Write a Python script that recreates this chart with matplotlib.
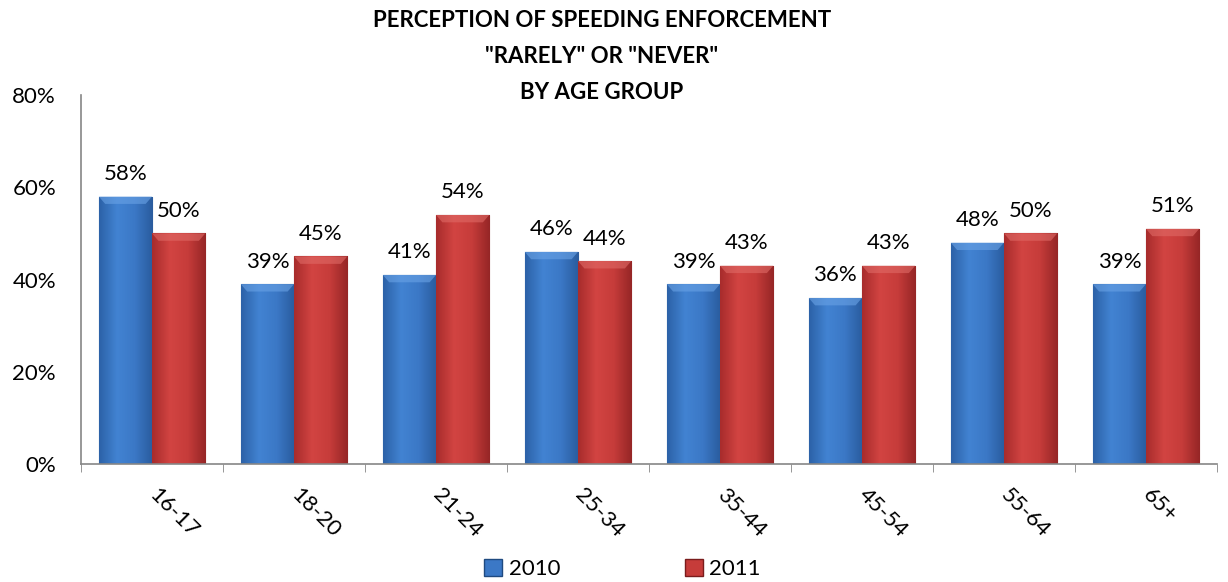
import matplotlib.pyplot as plt
import numpy as np
from matplotlib.patches import Patch
from matplotlib.colors import LinearSegmentedColormap

plt.rcParams['font.family'] = ['Lato', 'DejaVu Sans']

groups = ['16-17', '18-20', '21-24', '25-34', '35-44', '45-54', '55-64', '65+']
y2010 = [58, 39, 41, 46, 39, 36, 48, 39]
y2011 = [50, 45, 54, 44, 43, 43, 50, 51]
yticks = [0, 20, 40, 60, 80]

blue = '#3b78c6'
red = '#c63c3a'
blue_cm = LinearSegmentedColormap.from_list('b', ['#2c62a8', '#4283d2', '#3b78c6', '#2a5c9e'])
red_cm = LinearSegmentedColormap.from_list('r', ['#a82c2c', '#d24442', '#c63c3a', '#962626'])
fs = 16

fig = plt.figure(figsize=(12.28, 5.82), dpi=100)
ax = fig.add_axes([0.066, 0.2027, 0.925, 0.634])

x = np.arange(len(groups))
w = 0.375
b1 = ax.bar(x - w / 2, y2010, w, color=blue, edgecolor='#1f4a80', lw=0.8, zorder=2)
b2 = ax.bar(x + w / 2, y2011, w, color=red, edgecolor='#7a1c1c', lw=0.8, zorder=2)

# horizontal shading on each bar, lighter bevel at the top
grad = np.linspace(0, 1, 64).reshape(1, -1)
for bars, cm, top in ((b1, blue_cm, '#6aa3e6'), (b2, red_cm, '#e06a66')):
    for r in bars:
        x0, h, bw = r.get_x(), r.get_height(), r.get_width()
        im = ax.imshow(grad, cmap=cm, aspect='auto', zorder=2.5,
                       extent=(x0, x0 + bw, 0, h))
        im.set_clip_path(r)
        ax.fill([x0, x0 + bw, x0 + bw * 0.88, x0 + bw * 0.12],
                [h, h, h - 1.6, h - 1.6], color=top, alpha=0.6, lw=0, zorder=2.6)
    ax.bar_label(bars, labels=[f'{v}%' for v in bars.datavalues],
                 padding=9, fontsize=fs, zorder=4)

ax.set_xlim(-0.5, len(groups) - 0.5)
ax.set_ylim(0, 80)
ax.set_yticks(yticks)
ax.set_yticklabels([f'{v}%' for v in yticks], fontsize=fs)
ax.set_xticks(x)
ax.set_xticklabels(groups, fontsize=fs, rotation=-45, ha='left', va='center',
                   rotation_mode='anchor')
ax.tick_params(axis='x', length=0, pad=20)
ax.set_xticks(np.arange(len(groups) + 1) - 0.5, minor=True)
ax.tick_params(axis='x', which='minor', length=6, color='#868686')
ax.tick_params(axis='y', length=0, pad=18)

for s in ['top', 'right']:
    ax.spines[s].set_visible(False)
for s in ['left', 'bottom']:
    ax.spines[s].set_color('#868686')
    ax.spines[s].set_linewidth(1.2)

fig.text(0.49, 0.983, 'PERCEPTION OF SPEEDING ENFORCEMENT\n"RARELY" OR "NEVER"\nBY AGE GROUP',
         ha='center', va='top', fontsize=16, fontweight='bold', linespacing=1.9)

handles = [Patch(facecolor=blue, edgecolor='#1f4a80', label='2010'),
           Patch(facecolor=red, edgecolor='#7a1c1c', label='2011')]
fig.legend(handles=handles, loc='lower center', bbox_to_anchor=(0.507, -0.03), ncol=2,
           frameon=False, fontsize=fs, handlelength=0.8, handleheight=0.8,
           handletextpad=0.3, columnspacing=5.6)

fig.savefig('out.png', dpi=100)
